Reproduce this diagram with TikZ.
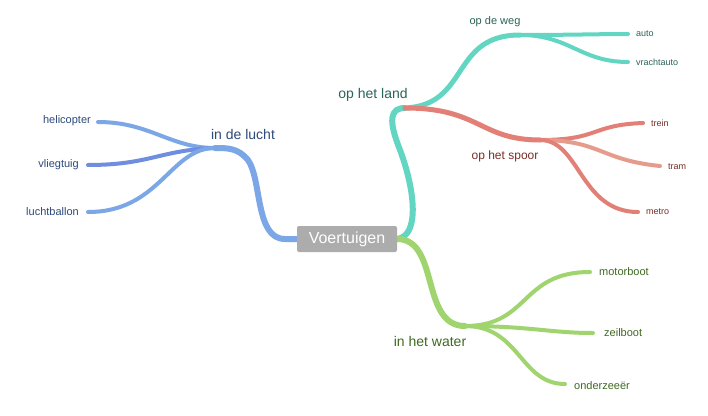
\documentclass[tikz,border=0pt]{standalone}
\usepackage{fontspec}
\setmainfont{Liberation Sans}
\begin{document}
\begin{tikzpicture}[x=1pt,y=-1pt,
  br/.style={line cap=round,line width=#1},
  lbl/.style={font=\fontsize{14}{16}\selectfont,inner sep=1pt},
  leaf/.style={font=\fontsize{11}{13}\selectfont,inner sep=1pt}]
\definecolor{blu}{HTML}{7BA7E6}\definecolor{blu2}{HTML}{6F8EE0}
\definecolor{tea}{HTML}{62D6C2}\definecolor{red}{HTML}{E27F76}
\definecolor{red2}{HTML}{E59C8D}\definecolor{grn}{HTML}{9FD46E}
\definecolor{tblu}{HTML}{2E4A7A}\definecolor{ttea}{HTML}{2B6458}
\definecolor{tred}{HTML}{7A2E28}\definecolor{tgrn}{HTML}{3F6A22}
\fill[white] (0,0) rectangle (708,415);
\useasboundingbox (0,0) rectangle (708,415);
% coordinates
\coordinate (cL) at (297,239); \coordinate (cR) at (397,239);
\coordinate (jL) at (215,148); \coordinate (jLand) at (405,108);
\coordinate (jWeg) at (520,35); \coordinate (jSp) at (540,140);
\coordinate (jW) at (465,326);
\coordinate (tHe) at (98,122); \coordinate (tVl) at (88,165); \coordinate (tLu) at (88,212);
\coordinate (tAu) at (628,34); \coordinate (tVr) at (628,62);
\coordinate (tTr) at (643,123); \coordinate (tTm) at (660,166); \coordinate (tMe) at (638,212);
\coordinate (tMo) at (590,272); \coordinate (tZe) at (593,333); \coordinate (tOn) at (565,384);
% left
\draw[br=6,blu] (cL) -- (285,239) .. controls (255,239) and (262,180) .. (248,160) .. controls (238,148) and (228,148) .. (jL);
\draw[br=4,blu] (jL) .. controls (170,148) and (150,122) .. (tHe);
\draw[br=4,blu2] (jL) .. controls (160,150) and (150,165) .. (tVl);
\draw[br=4,blu] (jL) .. controls (170,148) and (160,212) .. (tLu);
% land
\draw[br=6,tea] (cR) .. controls (420,236) and (415,190) .. (400,150) .. controls (388,120) and (390,108) .. (jLand);
\draw[br=5,tea] (jLand) .. controls (470,105) and (450,35) .. (jWeg);
\draw[br=4,tea] (jWeg) .. controls (570,35) and (600,34) .. (tAu);
\draw[br=4,tea] (jWeg) .. controls (570,35) and (580,62) .. (tVr);
\draw[br=5,red] (jLand) .. controls (480,108) and (480,140) .. (jSp);
\draw[br=4,red] (jSp) .. controls (600,140) and (590,125) .. (tTr);
\draw[br=4,red2] (jSp) .. controls (600,140) and (600,160) .. (tTm);
\draw[br=4,red] (jSp) .. controls (580,140) and (580,212) .. (tMe);
% water
\draw[br=6,grn] (cR) .. controls (440,239) and (420,326) .. (jW);
\draw[br=4,grn] (jW) .. controls (530,326) and (520,272) .. (tMo);
\draw[br=4,grn] (jW) .. controls (530,326) and (550,333) .. (tZe);
\draw[br=4,grn] (jW) .. controls (520,326) and (520,384) .. (tOn);
% nodes
\node[fill=gray!65,text=white,rounded corners=2pt,minimum width=100,minimum height=26,font=\fontsize{16}{18}\selectfont] (c) at (347,239) {Voertuigen};
\node[lbl,text=tblu] (nl) at (243,134) {in de lucht};
\node[lbl,text=ttea] (nland) at (373,95) {op het land};
\node[leaf,text=ttea] (nweg) at (495,22) {op de weg};
\node[leaf,text=tred,font=\fontsize{12}{14}\selectfont] (nsp) at (505,156) {op het spoor};
\node[lbl,text=tgrn] (nw) at (430,341) {in het water};
\node[leaf,text=tblu,anchor=east] (he) at (92,121) {helicopter};
\node[leaf,text=tblu,anchor=east] (vl) at (80,165) {vliegtuig};
\node[leaf,text=tblu,anchor=east] (lu) at (80,212) {luchtballon};
\node[leaf,text=ttea,anchor=west,font=\fontsize{9}{11}\selectfont] (au) at (635,34) {auto};
\node[leaf,text=ttea,anchor=west,font=\fontsize{9}{11}\selectfont] (vr) at (635,62) {vrachtauto};
\node[leaf,text=tred,anchor=west,font=\fontsize{9}{11}\selectfont] (tr) at (650,123) {trein};
\node[leaf,text=tred,anchor=west,font=\fontsize{9}{11}\selectfont] (tm) at (667,167) {tram};
\node[leaf,text=tred,anchor=west,font=\fontsize{9}{11}\selectfont] (me) at (645,212) {metro};
\node[leaf,text=tgrn,anchor=west] (mo) at (598,272) {motorboot};
\node[leaf,text=tgrn,anchor=west] (ze) at (603,333) {zeilboot};
\node[leaf,text=tgrn,anchor=west] (on) at (573,386) {onderzeeër};
\end{tikzpicture}
\end{document}
